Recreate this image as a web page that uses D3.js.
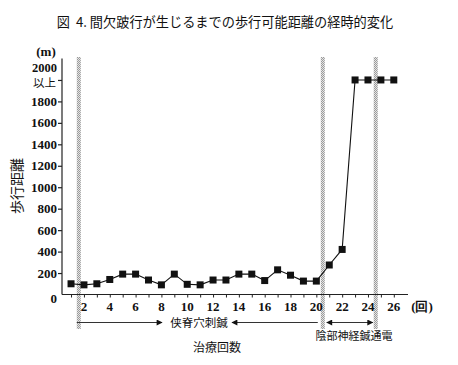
<!DOCTYPE html>
<html><head><meta charset="utf-8">
<script src="https://cdn.jsdelivr.net/npm/d3@7"></script>
<style>
html,body{margin:0;padding:0;background:#fff;}
svg{display:block;}
text{white-space:pre;}
.num{font-family:"Liberation Serif","Times New Roman",serif;font-weight:bold;}
</style></head>
<body>
<svg id="c" width="458" height="365"></svg>
<script>
const sessions = [1,2,3,4,5,6,7,8,9,10,11,12,13,14,15,16,17,18,19,20,21,22,23,24,25,26];
const distances = [100,90,100,140,190,190,135,90,190,95,90,135,135,190,190,130,230,180,125,125,275,420,2000,2000,2000,2000];
const xTickValues = [1,2,3,4,5,6,7,8,9,10,11,12,13,14,15,16,17,18,19,20,21,22,23,24,25,26];
const xTickLabels = [2,4,6,8,10,12,14,16,18,20,22,24,26];
const yTickValues = [0,200,400,600,800,1000,1200,1400,1600,1800,2000];
const phaseBoundaries = [1.6, 20.5, 24.6];
const title = "図  4. 間欠跛行が生じるまでの歩行可能距離の経時的変化";
const yTitle = "歩行距離";
const xTitle = "治療回数";
const yUnit = "(m)";
const xUnit = "(回)";
const phase1 = "侠脊穴刺鍼";
const phase2 = "陰部神経鍼通電";
const topLabel = ["2000", "以上"];

const svg = d3.select("#c");
const jp = "'Noto Sans CJK JP', sans-serif";

const x = d3.scaleLinear().domain([0.3, 27.1]).range([62, 408]);
const y = d3.scaleLinear().domain([0, 2200]).range([294.5, 58.5]);

const defs = svg.append("defs");
const pat = defs.append("pattern").attr("id","stip").attr("patternUnits","userSpaceOnUse")
  .attr("width",2).attr("height",2);
pat.append("rect").attr("width",2).attr("height",2).attr("fill","#e4e4e4");
pat.append("rect").attr("x",0).attr("y",0).attr("width",1).attr("height",1).attr("fill","#9a9a9a");
pat.append("rect").attr("x",1).attr("y",1).attr("width",1).attr("height",1).attr("fill","#9a9a9a");

const arrowR = defs.append("marker").attr("id","ah").attr("viewBox","0 0 10 10")
  .attr("refX",9).attr("refY",5).attr("markerWidth",8).attr("markerHeight",6)
  .attr("orient","auto-start-reverse").attr("markerUnits","userSpaceOnUse");
arrowR.append("path").attr("d","M0,0L10,5L0,10z").attr("fill","#111");

svg.append("text").attr("x",225).attr("y",27).attr("text-anchor","middle")
  .attr("font-family",jp).attr("font-size",13.2).attr("fill","#111").text(title);

svg.selectAll("rect.sep").data(phaseBoundaries).join("rect").attr("class","sep")
  .attr("x",d=>x(d)-2).attr("y",57).attr("width",4).attr("height",272)
  .attr("fill","url(#stip)");

const yAxis = d3.axisLeft(y).tickValues(yTickValues.filter(v=>v>0)).tickSize(4).tickFormat("");
const gy = svg.append("g").attr("transform","translate(62,0)").call(yAxis);
gy.select(".domain").attr("stroke","#222").attr("stroke-width",1.2).attr("d","M0,58.5V294.5");
gy.selectAll(".tick line").attr("stroke","#222").attr("stroke-width",1.2);

svg.selectAll("text.ylab").data(yTickValues.filter(v=>v<2000)).join("text").attr("class","ylab num")
  .attr("x",57).attr("y",d=>y(d)+ (d===0?8:4.5)).attr("text-anchor","end")
  .attr("font-size",13).attr("fill","#111")
  .text(d=>d);
svg.append("text").attr("class","num").attr("x",57).attr("y",y(2000)-8).attr("text-anchor","end")
  .attr("font-size",12.5).attr("fill","#111").text(topLabel[0]);
svg.append("text").attr("x",56).attr("y",y(2000)+7).attr("text-anchor","end")
  .attr("font-family",jp).attr("font-size",11.5).attr("fill","#111").text(topLabel[1]);
svg.append("text").attr("class","num").attr("x",46).attr("y",56).attr("text-anchor","middle")
  .attr("font-size",13).attr("fill","#111").text(yUnit);

svg.append("text").attr("transform","translate(22,186) rotate(-90)").attr("text-anchor","middle")
  .attr("font-family",jp).attr("font-size",14).attr("fill","#111").text(yTitle);

const xAxis = d3.axisBottom(x).tickValues(xTickValues).tickSize(3).tickFormat("");
const gx = svg.append("g").attr("transform","translate(0,294.5)").call(xAxis);
gx.select(".domain").attr("stroke","#222").attr("stroke-width",1.2).attr("d","M62,0H408");
gx.selectAll(".tick line").attr("stroke","#222");

svg.selectAll("text.xlab").data(xTickLabels).join("text").attr("class","xlab num")
  .attr("x",d=>x(d)).attr("y",311).attr("text-anchor","middle")
  .attr("font-size",13).attr("fill","#111")
  .text(d=>d);
svg.append("text").attr("class","num").attr("x",422).attr("y",311).attr("text-anchor","middle")
  .attr("font-size",13).attr("fill","#111").text(xUnit);

const pts = sessions.map((s,i)=>[s, distances[i]]);
svg.append("path").datum(pts)
  .attr("d", d3.line().x(d=>x(d[0])).y(d=>y(d[1])))
  .attr("fill","none").attr("stroke","#111").attr("stroke-width",1.1);
svg.selectAll("rect.pt").data(pts).join("rect").attr("class","pt")
  .attr("x",d=>x(d[0])-3.5).attr("y",d=>y(d[1])-3.5).attr("width",7).attr("height",7)
  .attr("fill","#111");

const ay = 322.5;
svg.append("line").attr("x1",x(phaseBoundaries[0])-2).attr("x2",162).attr("y1",ay).attr("y2",ay)
  .attr("stroke","#333").attr("stroke-width",1).attr("marker-end","url(#ah)");
svg.append("line").attr("x1",x(phaseBoundaries[1])-5).attr("x2",232).attr("y1",ay).attr("y2",ay)
  .attr("stroke","#333").attr("stroke-width",1).attr("marker-end","url(#ah)");
svg.append("line").attr("x1",x(phaseBoundaries[1])+4).attr("x2",x(phaseBoundaries[2])-3).attr("y1",ay).attr("y2",ay)
  .attr("stroke","#333").attr("stroke-width",1).attr("marker-start","url(#ah)").attr("marker-end","url(#ah)");

svg.append("text").attr("x",199).attr("y",327).attr("text-anchor","middle")
  .attr("font-family",jp).attr("font-size",11.5).attr("fill","#111").text(phase1);
svg.append("text").attr("x",354).attr("y",339.5).attr("text-anchor","middle")
  .attr("font-family",jp).attr("font-size",11).attr("fill","#111").text(phase2);
svg.append("text").attr("x",217).attr("y",352).attr("text-anchor","middle")
  .attr("font-family",jp).attr("font-size",12).attr("fill","#111").text(xTitle);
</script>
</body></html>
